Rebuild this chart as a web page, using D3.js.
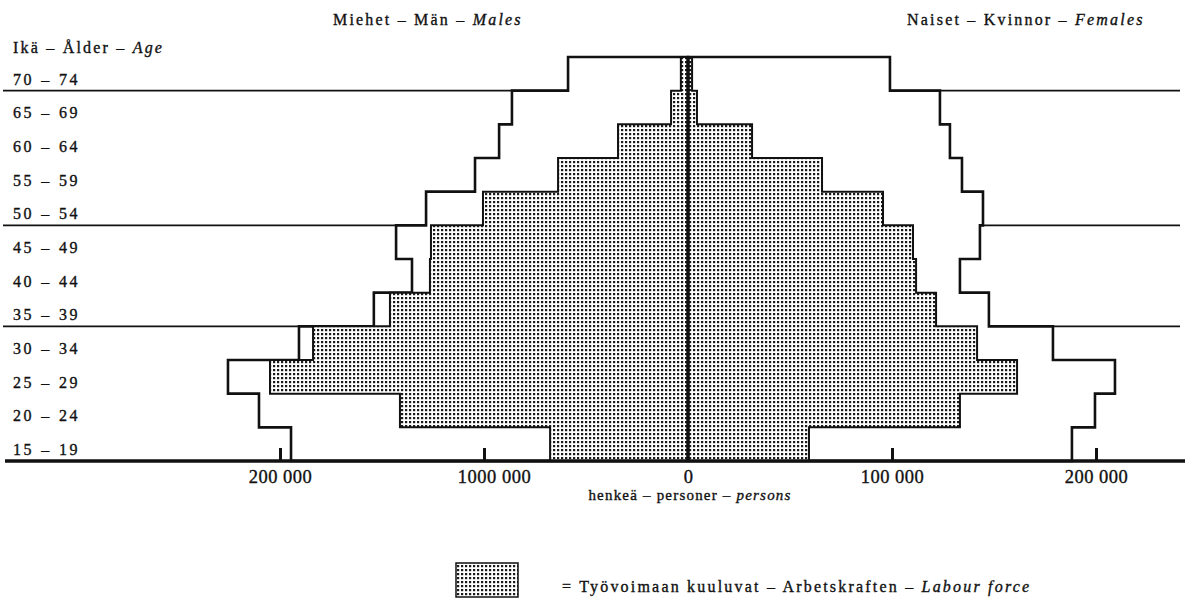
<!DOCTYPE html>
<html><head><meta charset="utf-8">
<script src="https://cdn.jsdelivr.net/npm/d3@7"></script>
<style>
body{margin:0;background:#fff}
svg{display:block}
text{font-family:"Liberation Serif","Times New Roman",serif;fill:#111;stroke:#111;stroke-width:0.35px}
</style>
</head><body>
<svg id="c" width="1187" height="599"></svg>
<script>
// ---- data (bottom age group first) ----
const ages = ["15 – 19","20 – 24","25 – 29","30 – 34","35 – 39","40 – 44","45 – 49","50 – 54","55 – 59","60 – 64","65 – 69","70 – 74"];
const malesTotal    = [194600,210300,225500,190700,154000,135300,143100,128400,104400, 92600, 86300, 58800];
const malesLabour   = [ 67600,141200,204900,183800,146100,126500,126000,100500, 63700, 34300,  8300,  3500];
const femalesTotal  = [188200,199500,209300,178900,147500,133300,143100,144600,134300,128400,123500, 99000];
const femalesLabour = [ 59300,133300,161300,141700,121600,111800,110300, 95600, 65700, 31400,  4400,  2000];
const tickValues = [-200000,-100000,0,100000,200000];
const tickLabels = ["200 000","1000 000","0","100 000","200 000"];
const refLineAges = ["70 – 74","50 – 54","35 – 39"]; // horizontal lines under these groups

const svg = d3.select("#c");
const ink = "#111";

const x = d3.scaleLinear().domain([-200000,200000]).range([280,1096]);
const y = d3.scaleBand().domain(ages.slice().reverse()).range([57,461]).paddingInner(0).paddingOuter(0);
const bw = y.bandwidth();
const yTop = y(ages[ages.length-1]);
const yBase = y(ages[0]) + bw;

// dot pattern
const defs = svg.append("defs");
const pat = defs.append("pattern").attr("id","dots").attr("patternUnits","userSpaceOnUse")
  .attr("width",4).attr("height",4);
pat.append("rect").attr("width",4).attr("height",4).attr("fill","#fff");
pat.append("rect").attr("x",1).attr("y",1).attr("width",2.2).attr("height",2.2).attr("fill","#1a1a1a");

// reference lines
svg.append("g").selectAll("line").data(refLineAges).join("line")
  .attr("x1",3).attr("x2",1180)
  .attr("y1",d=>y(d)+bw).attr("y2",d=>y(d)+bw)
  .attr("stroke",ink).attr("stroke-width",1.6);

function stepPath(vals, sign){
  const pts = [[x(0), yBase]];
  vals.forEach((v,i)=>{
    const t = y(ages[i]);
    pts.push([x(sign*v), t+bw]);
    pts.push([x(sign*v), t]);
  });
  pts.push([x(0), yTop]);
  return d3.line()(pts) + "Z";
}

// totals (white, outlined)
svg.append("g").selectAll("path").data([[malesTotal,-1],[femalesTotal,1]]).join("path")
  .attr("d",d=>stepPath(d[0],d[1]))
  .attr("fill","#fff").attr("stroke",ink).attr("stroke-width",2.6).attr("stroke-linejoin","miter");

// labour force (dotted)
svg.append("g").selectAll("path").data([[malesLabour,-1],[femalesLabour,1]]).join("path")
  .attr("d",d=>stepPath(d[0],d[1]))
  .attr("fill","url(#dots)").attr("stroke",ink).attr("stroke-width",2).attr("stroke-linejoin","miter");

// centre line
svg.append("line").attr("x1",x(0)).attr("x2",x(0)).attr("y1",yTop).attr("y2",yBase)
  .attr("stroke",ink).attr("stroke-width",3.5);

// baseline
svg.append("line").attr("x1",5).attr("x2",1185).attr("y1",yBase).attr("y2",yBase)
  .attr("stroke",ink).attr("stroke-width",3.5);

// axis
const axis = d3.axisBottom(x).tickValues(tickValues)
  .tickFormat((d,i)=>tickLabels[i]).tickSizeInner(-13).tickSizeOuter(0).tickPadding(9);
const ag = svg.append("g").attr("transform",`translate(0,${yBase})`).call(axis);
ag.select(".domain").remove();
ag.selectAll(".tick line").attr("stroke",ink).attr("stroke-width",3)
  .attr("display",d=>d===0?"none":null);
ag.selectAll(".tick text").attr("font-family",null).attr("font-size",18.5)
  .style("letter-spacing","0.5px").attr("fill",ink)
  .attr("dx",(d,i)=>tickLabels[i]==="1000 000"?10:0);

// texts
function label(xp, yp, parts, anchor){
  const t = svg.append("text").attr("x",xp).attr("y",yp).attr("font-size",16)
    .style("letter-spacing","2.2px").attr("text-anchor",anchor||"start");
  parts.forEach(p=>t.append("tspan").attr("font-style",p[1]?"italic":"normal").text(p[0]));
  return t;
}
label(333,25,[["Miehet – Män – ",0],["Males",1]]);
label(907,25,[["Naiset – Kvinnor – ",0],["Females",1]]);
label(13,53,[["Ikä – Ålder – ",0],["Age",1]]);
label(690,500,[["henkeä – personer – ",0],["persons",1]],"middle").attr("font-size",15).style("letter-spacing","1.2px");

svg.append("g").selectAll("text").data(ages).join("text")
  .attr("x",13).attr("y",d=>y(d)+bw-6)
  .attr("font-size",16).style("letter-spacing","2.4px").style("word-spacing","1px")
  .text(d=>d);

// legend
svg.append("rect").attr("x",456).attr("y",563).attr("width",62).attr("height",34)
  .attr("fill","url(#dots)").attr("stroke",ink).attr("stroke-width",1.5);
label(562,592,[["= Työvoimaan kuuluvat – Arbetskraften – ",0],["Labour force",1]]);
</script>
</body></html>
